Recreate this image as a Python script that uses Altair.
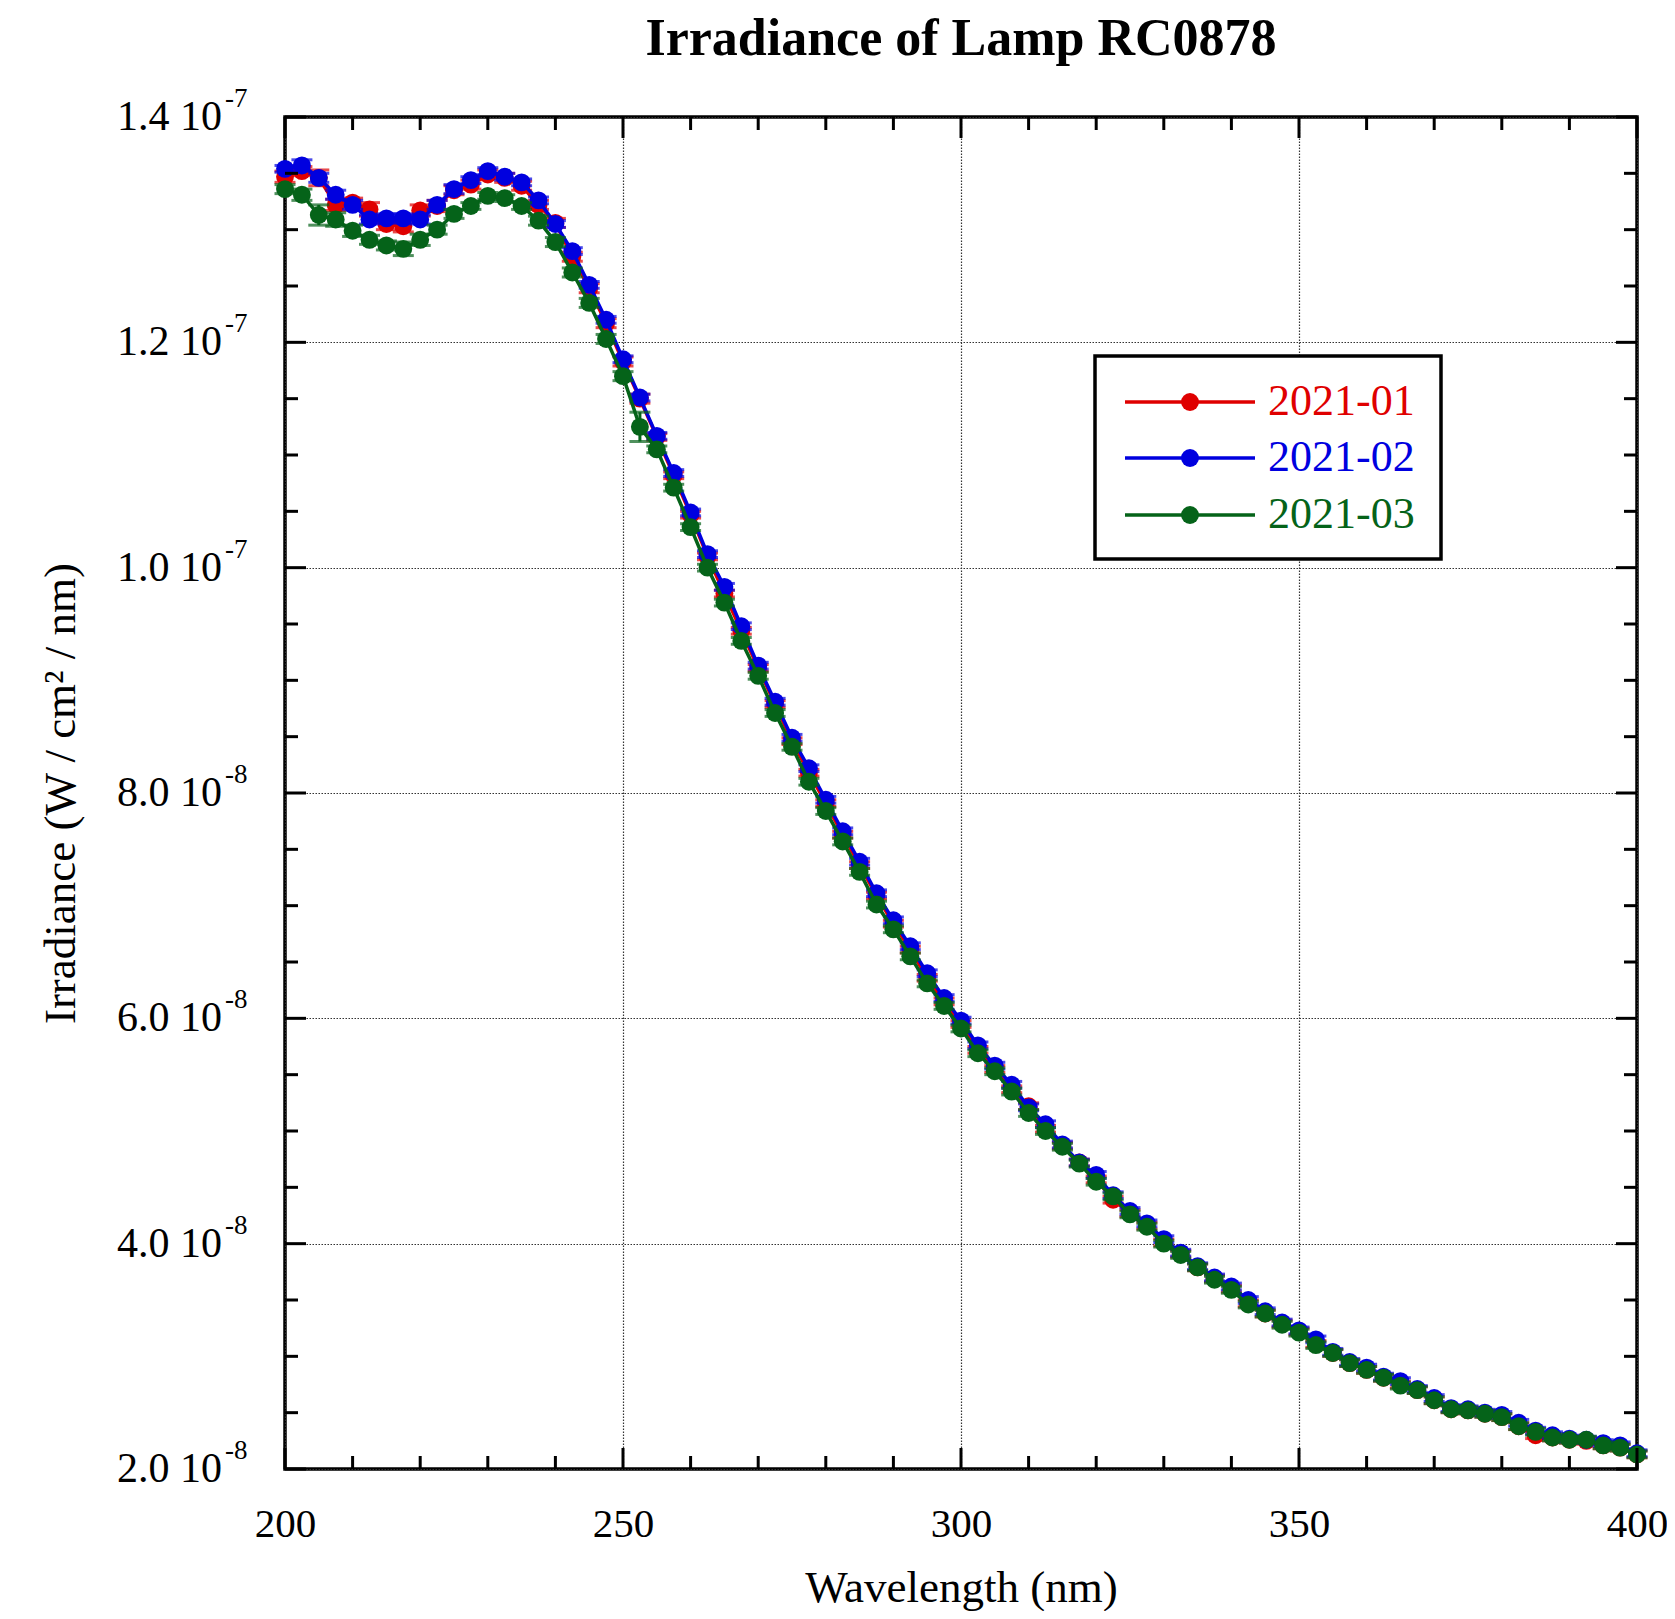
import altair as alt
import pandas as pd

# ---------------- data (irradiance values in units of 1e-8 W / cm^2 / nm) ----------------
series_names = ["2021-01", "2021-02", "2021-03"]
series_colors = ["#DF0000", "#0000DF", "#056319"]

wavelength_nm = [200.0, 202.5, 205.0, 207.5, 210.0, 212.5, 215.0, 217.5, 220.0, 222.5,
                 225.0, 227.5, 230.0, 232.5, 235.0, 237.5, 240.0, 242.5, 245.0, 247.5,
                 250.0, 252.5, 255.0, 257.5, 260.0, 262.5, 265.0, 267.5, 270.0, 272.5,
                 275.0, 277.5, 280.0, 282.5, 285.0, 287.5, 290.0, 292.5, 295.0, 297.5,
                 300.0, 302.5, 305.0, 307.5, 310.0, 312.5, 315.0, 317.5, 320.0, 322.5,
                 325.0, 327.5, 330.0, 332.5, 335.0, 337.5, 340.0, 342.5, 345.0, 347.5,
                 350.0, 352.5, 355.0, 357.5, 360.0, 362.5, 365.0, 367.5, 370.0, 372.5,
                 375.0, 377.5, 380.0, 382.5, 385.0, 387.5, 390.0, 392.5, 395.0, 397.5,
                 400.0]

irr_2021_01 = [13.47, 13.52, 13.46, 13.22, 13.24, 13.18, 13.05, 13.03, 13.17, 13.21,
               13.35, 13.40, 13.49, 13.46, 13.39, 13.22, 13.06, 12.76, 12.48, 12.17,
               11.83, 11.50, 11.16, 10.82, 10.47, 10.10, 9.77, 9.44, 9.11, 8.79,
               8.46, 8.18, 7.91, 7.63, 7.36, 7.09, 6.84, 6.61, 6.36, 6.15,
               5.95, 5.72, 5.55, 5.37, 5.22, 5.02, 4.87, 4.72, 4.57, 4.39,
               4.27, 4.16, 4.01, 3.91, 3.79, 3.69, 3.60, 3.47, 3.38, 3.29,
               3.22, 3.11, 3.03, 2.94, 2.88, 2.81, 2.75, 2.70, 2.61, 2.53,
               2.52, 2.49, 2.46, 2.38, 2.30, 2.28, 2.26, 2.25, 2.21, 2.19,
               2.13]

irr_2021_02 = [13.54, 13.57, 13.46, 13.31, 13.22, 13.09, 13.10, 13.10, 13.09, 13.22,
               13.36, 13.44, 13.52, 13.47, 13.42, 13.26, 13.05, 12.81, 12.51, 12.20,
               11.85, 11.51, 11.17, 10.84, 10.49, 10.12, 9.83, 9.48, 9.13, 8.81,
               8.49, 8.22, 7.94, 7.66, 7.39, 7.11, 6.87, 6.64, 6.40, 6.18,
               5.98, 5.76, 5.58, 5.41, 5.21, 5.06, 4.88, 4.72, 4.61, 4.43,
               4.29, 4.18, 4.04, 3.92, 3.80, 3.70, 3.62, 3.50, 3.40, 3.30,
               3.23, 3.15, 3.04, 2.95, 2.90, 2.82, 2.78, 2.71, 2.63, 2.54,
               2.53, 2.50, 2.48, 2.41, 2.34, 2.30, 2.27, 2.26, 2.23, 2.21,
               2.14]

irr_2021_03 = [13.36, 13.31, 13.13, 13.09, 12.99, 12.91, 12.86, 12.83, 12.91, 13.00,
               13.14, 13.21, 13.30, 13.28, 13.21, 13.08, 12.89, 12.62, 12.35, 12.03,
               11.70, 11.25, 11.05, 10.71, 10.36, 10.00, 9.69, 9.35, 9.04, 8.71,
               8.41, 8.10, 7.84, 7.57, 7.30, 7.01, 6.79, 6.55, 6.31, 6.11,
               5.91, 5.69, 5.53, 5.35, 5.16, 5.00, 4.86, 4.71, 4.55, 4.42,
               4.26, 4.15, 4.00, 3.90, 3.79, 3.68, 3.59, 3.46, 3.38, 3.28,
               3.21, 3.10, 3.03, 2.94, 2.88, 2.81, 2.74, 2.70, 2.61, 2.53,
               2.52, 2.49, 2.46, 2.38, 2.33, 2.28, 2.26, 2.26, 2.21, 2.19,
               2.13]

err_2021_01 = [0.05, 0.04, 0.07, 0.05, 0.04, 0.06, 0.05, 0.05, 0.05, 0.05,
               0.04, 0.04, 0.04, 0.04, 0.04, 0.04, 0.04, 0.04, 0.04, 0.04,
               0.04, 0.04, 0.03, 0.03, 0.03, 0.03, 0.03, 0.03, 0.03, 0.03,
               0.03, 0.03, 0.03, 0.03, 0.03, 0.03, 0.03, 0.03, 0.03, 0.03,
               0.03, 0.03, 0.03, 0.03, 0.03, 0.03, 0.03, 0.03, 0.03, 0.03,
               0.03, 0.03, 0.03, 0.03, 0.03, 0.03, 0.03, 0.03, 0.03, 0.03,
               0.03, 0.03, 0.03, 0.03, 0.03, 0.03, 0.03, 0.03, 0.03, 0.03,
               0.03, 0.03, 0.03, 0.03, 0.03, 0.03, 0.03, 0.03, 0.03, 0.03,
               0.03]

err_2021_02 = [0.03, 0.05, 0.04, 0.04, 0.04, 0.04, 0.04, 0.04, 0.04, 0.04,
               0.04, 0.03, 0.03, 0.03, 0.03, 0.03, 0.03, 0.03, 0.03, 0.03,
               0.03, 0.03, 0.03, 0.03, 0.03, 0.03, 0.03, 0.03, 0.03, 0.03,
               0.03, 0.03, 0.03, 0.03, 0.03, 0.03, 0.03, 0.03, 0.03, 0.03,
               0.03, 0.03, 0.03, 0.03, 0.03, 0.03, 0.03, 0.03, 0.03, 0.03,
               0.03, 0.03, 0.03, 0.03, 0.03, 0.03, 0.03, 0.03, 0.03, 0.03,
               0.03, 0.03, 0.03, 0.03, 0.03, 0.03, 0.03, 0.03, 0.03, 0.03,
               0.03, 0.03, 0.03, 0.03, 0.03, 0.03, 0.03, 0.03, 0.03, 0.03,
               0.03]

err_2021_03 = [0.04, 0.05, 0.09, 0.06, 0.05, 0.04, 0.04, 0.06, 0.05, 0.04,
               0.04, 0.03, 0.03, 0.03, 0.03, 0.04, 0.04, 0.04, 0.04, 0.04,
               0.04, 0.13, 0.03, 0.03, 0.03, 0.03, 0.03, 0.03, 0.03, 0.03,
               0.03, 0.03, 0.03, 0.03, 0.03, 0.03, 0.03, 0.03, 0.03, 0.03,
               0.03, 0.03, 0.03, 0.03, 0.03, 0.03, 0.03, 0.03, 0.03, 0.03,
               0.03, 0.03, 0.03, 0.03, 0.03, 0.03, 0.03, 0.03, 0.03, 0.03,
               0.03, 0.03, 0.03, 0.03, 0.03, 0.03, 0.03, 0.03, 0.03, 0.03,
               0.03, 0.03, 0.03, 0.03, 0.03, 0.03, 0.03, 0.03, 0.03, 0.03,
               0.03]

x_major = [200, 250, 300, 350, 400]
x_minor = [210, 220, 230, 240, 260, 270, 280, 290, 310, 320, 330, 340, 360, 370, 380, 390]
y_major = [2.0, 4.0, 6.0, 8.0, 10.0, 12.0, 14.0]
y_minor = [2.5, 3.0, 3.5, 4.5, 5.0, 5.5, 6.5, 7.0, 7.5, 8.5, 9.0, 9.5,
           10.5, 11.0, 11.5, 12.5, 13.0, 13.5]
y_label_mantissa = ["2.0 10", "4.0 10", "6.0 10", "8.0 10", "1.0 10", "1.2 10", "1.4 10"]
y_label_exponent = ["-8", "-8", "-8", "-8", "-7", "-7", "-7"]

UNIT = 1e-8

# ---------------- tables ----------------
rows = []
for name, vals, errs in zip(series_names,
                            [irr_2021_01, irr_2021_02, irr_2021_03],
                            [err_2021_01, err_2021_02, err_2021_03]):
    for w, v, e in zip(wavelength_nm, vals, errs):
        rows.append({"wl": w, "irr": v * UNIT, "lo": (v - e) * UNIT,
                     "hi": (v + e) * UNIT, "series": name})
df = pd.DataFrame(rows)

xmaj_df = pd.DataFrame({"wl": x_major})
xmin_df = pd.DataFrame({"wl": x_minor})
ymaj_df = pd.DataFrame({"irr": [v * UNIT for v in y_major]})
ymin_df = pd.DataFrame({"irr": [v * UNIT for v in y_minor]})
ylab_df = pd.DataFrame({"irr": [v * UNIT for v in y_major],
                        "m": y_label_mantissa, "e": y_label_exponent})

W = 1352
H = 1352
FONT = "Liberation Serif"
MAJ = 21
MIN = 13
MSIZE = 320

xs = alt.Scale(domain=[200, 400], nice=False, zero=False)
ys = alt.Scale(domain=[2e-8, 1.4e-7], nice=False, zero=False)
cs = alt.Scale(domain=series_names, range=series_colors)
color_enc = alt.Color("series:N", scale=cs, legend=None)

x_axis = alt.Axis(values=x_major, format="d", title="Wavelength (nm)",
                  grid=True, gridColor="#333333", gridDash=[1.5, 1.5], gridWidth=1.2,
                  ticks=False, tickSize=0, domain=False,
                  labelFont=FONT, labelFontSize=41, labelColor="black",
                  labelPadding=35, labelFlush=False, labelOverlap=False, labelAngle=0,
                  titleFont=FONT, titleFontSize=45, titleFontWeight="normal",
                  titleColor="black", titleY=132, titleBaseline="alphabetic")
y_axis = alt.Axis(values=[v * UNIT for v in y_major], title="Irradiance (W / cm² / nm)",
                  grid=True, gridColor="#333333", gridDash=[1.5, 1.5], gridWidth=1.2,
                  labels=False, ticks=False, tickSize=0, domain=False,
                  titleFont=FONT, titleFontSize=45, titleFontWeight="normal",
                  titleColor="black", titleAngle=270, titleX=-211, titleY=H / 2,
                  titleAlign="center", titleBaseline="alphabetic")

X = alt.X("wl:Q", scale=xs, axis=x_axis)
Y = alt.Y("irr:Q", scale=ys, axis=y_axis)

# ---------------- inward ticks on all four sides ----------------
def xticks(data, length):
    b = alt.Chart(data).mark_rule(color="black", strokeWidth=3)
    bottom = b.encode(x=X, y=alt.value(H), y2=alt.value(H - length))
    top = b.encode(x=X, y=alt.value(0), y2=alt.value(length))
    return [bottom, top]


def yticks(data, length):
    b = alt.Chart(data).mark_rule(color="black", strokeWidth=3)
    left = b.encode(y=Y, x=alt.value(0), x2=alt.value(length))
    right = b.encode(y=Y, x=alt.value(W), x2=alt.value(W - length))
    return [left, right]


tick_layers = xticks(xmaj_df, MAJ) + xticks(xmin_df, MIN) + yticks(ymaj_df, MAJ) + yticks(ymin_df, MIN)

# ---------------- y tick labels "m 10^e" ----------------
ylab_main = alt.Chart(ylab_df).mark_text(
    align="right", baseline="alphabetic", dy=13, font=FONT, fontSize=42, color="black"
).encode(y=Y, x=alt.value(-63), text="m:N")
ylab_sup = alt.Chart(ylab_df).mark_text(
    align="left", baseline="alphabetic", dy=-10, font=FONT, fontSize=27, color="black"
).encode(y=Y, x=alt.value(-60), text="e:N")

# ---------------- series ----------------
series_layers = []
for name in series_names:
    base = alt.Chart(df).transform_filter(alt.datum.series == name)
    line = base.mark_line(strokeWidth=3.5).encode(x=X, y=Y, color=color_enc)
    err = base.mark_errorbar(ticks=True, thickness=3, size=21).encode(
        x=X, y=alt.Y("lo:Q", scale=ys, axis=y_axis), y2="hi:Q", color=color_enc)
    pts = base.mark_circle(size=MSIZE, opacity=1).encode(x=X, y=Y, color=color_enc)
    series_layers += [line, err, pts]

# ---------------- legend (box, line+marker samples, coloured labels) ----------------
leg_layers = [
    alt.Chart(pd.DataFrame({"k": [0]})).mark_rect(
        fill="white", stroke="black", strokeWidth=3.5
    ).encode(x=alt.value(810), x2=alt.value(1156), y=alt.value(239), y2=alt.value(442))
]
leg_rows_y = [285, 341, 398]
for name, col, yy in zip(series_names, series_colors, leg_rows_y):
    one = alt.Chart(pd.DataFrame({"series": [name]}))
    leg_layers.append(one.mark_rule(strokeWidth=3.5, color=col).encode(
        x=alt.value(840), x2=alt.value(970), y=alt.value(yy)))
    leg_layers.append(one.mark_circle(size=MSIZE, opacity=1, color=col).encode(
        x=alt.value(905), y=alt.value(yy)))
    leg_layers.append(one.mark_text(align="left", baseline="middle", font=FONT,
                                    fontSize=44, color=col).encode(
        x=alt.value(983), y=alt.value(yy), text="series:N"))

chart = alt.layer(*series_layers, *tick_layers, ylab_main, ylab_sup, *leg_layers).properties(
    width=W, height=H,
    autosize=alt.AutoSizeParams(type="none"),
    padding={"left": 277, "top": 109, "right": 30, "bottom": 142},
    background="white",
    title=alt.TitleParams("Irradiance of Lamp RC0878", font=FONT, fontSize=52,
                          fontWeight="bold", color="black", anchor="middle",
                          frame="group", baseline="alphabetic", offset=-22),
).configure_view(stroke="black", strokeWidth=3.5)

chart.save("out.html", embed_options={"renderer": "svg", "actions": False})
